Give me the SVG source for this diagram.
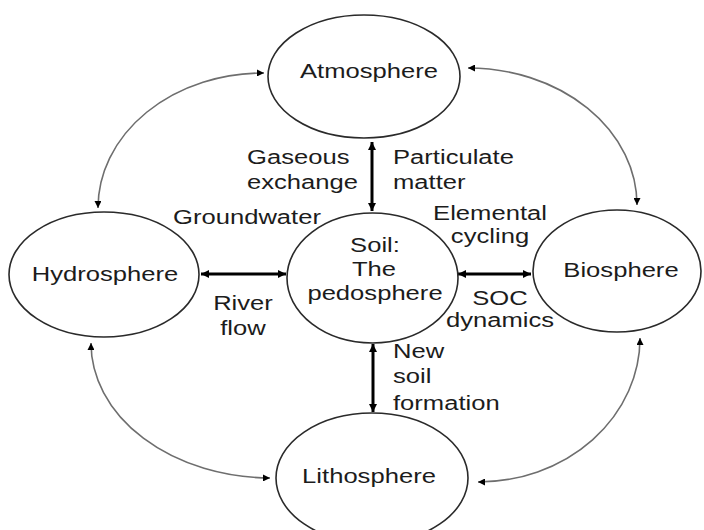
<svg xmlns="http://www.w3.org/2000/svg" width="704" height="530" viewBox="0 0 704 530">
  <style>
    .node { fill: #ffffff; stroke: #2a2a2a; stroke-width: 1.6; }
    .t { font-family: "Liberation Sans", Arial, sans-serif; font-size: 20px; fill: #1c1c1c; }
    .c { text-anchor: middle; }
    .thick { fill: none; stroke: #000000; stroke-width: 3; marker-start: url(#ab); marker-end: url(#ab); }
    .thin { fill: none; stroke: #6e6e6e; stroke-width: 1.6; marker-start: url(#as); marker-end: url(#as); }
  </style>
  <defs>
    <marker id="ab" viewBox="0 0 8 8" refX="8" refY="4" markerWidth="8" markerHeight="8" markerUnits="userSpaceOnUse" orient="auto-start-reverse">
      <path d="M0,0 L8,4 L0,8 z" fill="#000000"/>
    </marker>
    <marker id="as" viewBox="0 0 7 7" refX="7" refY="3.5" markerWidth="7" markerHeight="7" markerUnits="userSpaceOnUse" orient="auto-start-reverse">
      <path d="M0,0 L7,3.5 L0,7 z" fill="#000000"/>
    </marker>
  </defs>
  <rect width="704" height="530" fill="#ffffff"/>

  <g id="connectors">
    <path class="thick" d="M372,142 L372,211"/>
    <path class="thick" d="M201,274 L286,274"/>
    <path class="thick" d="M458,274 L531,274"/>
    <path class="thick" d="M373,344 L373,412"/>
    <path class="thin" d="M264,73 A165 135 0 0 0 98,208"/>
    <path class="thin" d="M468,68 A169 137 0 0 1 637,205"/>
    <path class="thin" d="M91,343 A180 135 0 0 0 270,478"/>
    <path class="thin" d="M640,338 A162 144 0 0 1 478,482"/>
  </g>

  <g id="atmosphere">
    <ellipse class="node" cx="364" cy="76.5" rx="96" ry="61.5"/>
    <text class="t c" transform="translate(369 78) scale(1.28 1)">Atmosphere</text>
  </g>
  <g id="hydrosphere">
    <ellipse class="node" cx="104" cy="274.5" rx="95" ry="62.5"/>
    <text class="t c" transform="translate(105 281) scale(1.28 1)">Hydrosphere</text>
  </g>
  <g id="soil">
    <ellipse class="node" cx="372.5" cy="278" rx="85.5" ry="65"/>
    <text class="t c" transform="translate(375 252) scale(1.28 1)">Soil:</text>
    <text class="t c" transform="translate(374 276) scale(1.28 1)">The</text>
    <text class="t c" transform="translate(375 300) scale(1.28 1)">pedosphere</text>
  </g>
  <g id="biosphere">
    <ellipse class="node" cx="617" cy="271" rx="84" ry="61"/>
    <text class="t c" transform="translate(621 277) scale(1.28 1)">Biosphere</text>
  </g>
  <g id="lithosphere">
    <ellipse class="node" cx="372" cy="478" rx="96" ry="65"/>
    <text class="t c" transform="translate(369 483) scale(1.28 1)">Lithosphere</text>
  </g>

  <g id="labels">
    <text class="t" transform="translate(247 164) scale(1.28 1)">Gaseous</text>
    <text class="t" transform="translate(247 189) scale(1.28 1)">exchange</text>
    <text class="t" transform="translate(393 164) scale(1.28 1)">Particulate</text>
    <text class="t" transform="translate(393 189) scale(1.28 1)">matter</text>
    <text class="t" transform="translate(173 224) scale(1.28 1)">Groundwater</text>
    <text class="t c" transform="translate(490 220) scale(1.28 1)">Elemental</text>
    <text class="t c" transform="translate(490 243) scale(1.28 1)">cycling</text>
    <text class="t c" transform="translate(243 310) scale(1.28 1)">River</text>
    <text class="t c" transform="translate(243 335) scale(1.28 1)">flow</text>
    <text class="t c" transform="translate(500 305) scale(1.28 1)">SOC</text>
    <text class="t c" transform="translate(500 327) scale(1.28 1)">dynamics</text>
    <text class="t" transform="translate(393 358) scale(1.28 1)">New</text>
    <text class="t" transform="translate(393 383) scale(1.28 1)">soil</text>
    <text class="t" transform="translate(393 410) scale(1.28 1)">formation</text>
  </g>
</svg>
